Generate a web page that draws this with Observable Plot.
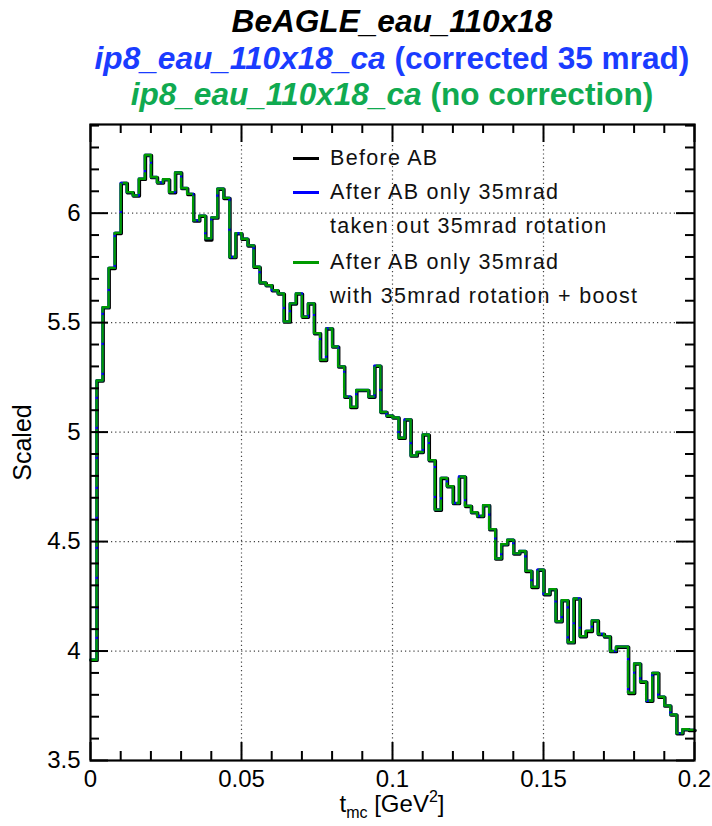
<!DOCTYPE html>
<html><head><meta charset="utf-8">
<script src="https://cdn.jsdelivr.net/npm/d3@7"></script>
<script src="https://cdn.jsdelivr.net/npm/@observablehq/plot@0.6"></script>
<style>
body{margin:0;background:#fff;}
#wrap{position:relative;width:712px;height:826px;overflow:hidden;font-family:"Liberation Sans",Arial,Helvetica,sans-serif;background:#fff;}
.title{position:absolute;left:0;width:784px;text-align:center;font-weight:bold;font-size:31.6px;line-height:36px;white-space:nowrap;}
.title i{font-style:italic;}
#plot{position:absolute;left:0;top:115px;}
.leg{position:absolute;font-size:21.5px;line-height:24px;letter-spacing:1.3px;white-space:nowrap;color:#111;}
.legline{position:absolute;height:3px;width:26px;}
#xlabel{position:absolute;left:0;width:784px;text-align:center;font-size:24px;line-height:28px;top:790px;white-space:nowrap;}
#xlabel sub{font-size:16px;vertical-align:-6px;line-height:0;}
#xlabel sup{font-size:16px;vertical-align:10px;line-height:0;}
</style></head>
<body><div id="wrap">
<div class="title" style="top:3px;color:#000"><i>BeAGLE_eau_110x18</i></div>
<div class="title" style="top:40px;color:#1a3cff"><i>ip8_eau_110x18_ca</i> (corrected 35 mrad)</div>
<div class="title" style="top:76px;color:#10aa50"><i>ip8_eau_110x18_ca</i> (no correction)</div>
<div id="plot"></div>
<div id="legend"></div>
<div id="xlabel">t<sub>mc</sub> [GeV<sup>2</sup>]</div>
</div>
<script>
// ---------------- data ----------------
const binWidth = 0.002;   // histogram bin width in t_mc [GeV^2], 100 bins over 0..0.2
const beforeAB = [
3.96,5.236,5.57,5.75,5.91,6.138,6.096,6.081,6.157,6.266,
6.165,6.14,6.155,6.096,6.186,6.115,6.088,5.967,5.988,5.88,
5.98,6.112,6.07,5.80,5.908,5.883,5.853,5.755,5.683,5.671,
5.648,5.633,5.505,5.588,5.633,5.527,5.588,5.452,5.33,5.474,
5.391,5.30,5.162,5.115,5.192,5.192,5.162,5.303,5.092,5.075,
5.067,4.974,5.058,4.893,4.909,4.989,4.872,4.646,4.791,4.753,
4.676,4.797,4.663,4.634,4.617,4.666,4.557,4.423,4.488,4.508,
4.446,4.457,4.366,4.293,4.372,4.26,4.283,4.136,4.232,4.04,
4.24,4.068,4.092,4.14,4.078,4.067,4.0,4.02,4.02,3.809,
3.943,3.86,3.773,3.90,3.791,3.751,3.71,3.625,3.643,3.64];
const afterTakenOut = [
3.96,5.236,5.57,5.75,5.91,6.138,6.096,6.081,6.157,6.266,
6.165,6.14,6.155,6.096,6.186,6.115,6.088,5.967,5.988,5.885,
5.98,6.112,6.07,5.80,5.908,5.883,5.853,5.755,5.683,5.671,
5.648,5.633,5.505,5.588,5.633,5.527,5.588,5.452,5.33,5.474,
5.391,5.30,5.162,5.115,5.192,5.192,5.162,5.303,5.092,5.075,
5.067,4.974,5.058,4.893,4.909,4.989,4.872,4.646,4.791,4.753,
4.676,4.797,4.663,4.634,4.617,4.666,4.557,4.423,4.488,4.508,
4.446,4.457,4.366,4.293,4.372,4.26,4.283,4.136,4.232,4.04,
4.24,4.068,4.092,4.14,4.078,4.067,4.0,4.02,4.02,3.809,
3.943,3.86,3.773,3.90,3.791,3.751,3.71,3.625,3.643,3.64];
const afterBoost = [
3.96,5.236,5.57,5.75,5.91,6.138,6.096,6.081,6.157,6.266,
6.165,6.14,6.155,6.096,6.186,6.115,6.088,5.967,5.988,5.885,
5.98,6.112,6.07,5.80,5.908,5.883,5.853,5.755,5.683,5.671,
5.648,5.633,5.505,5.588,5.633,5.527,5.588,5.452,5.33,5.474,
5.391,5.30,5.162,5.115,5.192,5.192,5.162,5.303,5.092,5.075,
5.067,4.974,5.058,4.893,4.909,4.989,4.872,4.646,4.791,4.753,
4.676,4.797,4.663,4.634,4.617,4.666,4.557,4.423,4.488,4.508,
4.446,4.457,4.366,4.293,4.372,4.26,4.283,4.136,4.232,4.04,
4.24,4.068,4.092,4.14,4.078,4.067,4.0,4.02,4.02,3.809,
3.943,3.86,3.773,3.90,3.791,3.751,3.71,3.625,3.643,3.64];

const xTicks = [0, 0.05, 0.1, 0.15, 0.2];
const xTickLabels = ["0", "0.05", "0.1", "0.15", "0.2"];
const xMinorTicks = [0.01,0.02,0.03,0.04,0.06,0.07,0.08,0.09,0.11,0.12,0.13,0.14,0.16,0.17,0.18,0.19];
const yTicks = [3.5, 4, 4.5, 5, 5.5, 6];
const yTickLabels = ["3.5", "4", "4.5", "5", "5.5", "6"];
const yMinorTicks = [3.6,3.7,3.8,3.9,4.1,4.2,4.3,4.4,4.6,4.7,4.8,4.9,5.1,5.2,5.3,5.4,5.6,5.7,5.8,5.9,6.1,6.2,6.3,6.4];
const gridX = [0.05, 0.1, 0.15];
const gridY = [4, 4.5, 5, 5.5, 6];

const seriesNames = ["Before AB", "After AB only 35mrad|taken out 35mrad rotation", "After AB only 35mrad|with 35mrad rotation + boost"];
const seriesColors = ["#000000", "#0000ff", "#009a00"];

// ---------------- build ----------------
function steps(vals) {
  const pts = vals.map((v, i) => ({x: i * binWidth, y: v}));
  pts.push({x: vals.length * binWidth, y: vals[vals.length - 1]});
  return pts;
}
const W = 712, H = 711, ML = 90, MR = 18, MT = 9, MB = 66;
const PW = W - ML - MR, PH = H - MT - MB;
const xFmt = new Map(xTicks.map((d, i) => [d, xTickLabels[i]]));
const yFmt = new Map(yTicks.map((d, i) => [d, yTickLabels[i]]));
const gridStyle = {stroke: "#444", strokeWidth: 1.2, strokeDasharray: "1.2,3"};
const tk = {stroke: "black", strokeWidth: 2};

const chart = Plot.plot({
  width: W, height: H, marginLeft: ML, marginRight: MR, marginTop: MT, marginBottom: MB,
  style: {fontFamily: "'Liberation Sans', Arial, sans-serif", fontSize: "24px", background: "transparent", color: "#000"},
  x: {domain: [0, 0.2], ticks: xTicks, tickFormat: d => xFmt.get(d), tickSize: 0, tickPadding: 9, label: null},
  y: {domain: [3.5, 6.405], ticks: yTicks, tickFormat: d => yFmt.get(d), tickSize: 0, tickPadding: 10, label: null},
  marks: [
    Plot.ruleX(gridX, {x: d => d, ...gridStyle}),
    Plot.ruleY(gridY, {y: d => d, ...gridStyle}),
    Plot.line(steps(beforeAB), {x: "x", y: "y", curve: "step-after", stroke: seriesColors[0], strokeWidth: 3.4, dx: 0.6, dy: 0.6}),
    Plot.line(steps(afterTakenOut), {x: "x", y: "y", curve: "step-after", stroke: seriesColors[1], strokeWidth: 2.4}),
    Plot.line(steps(afterBoost), {x: "x", y: "y", curve: "step-after", stroke: seriesColors[2], strokeWidth: 2.4, strokeDasharray: "26,4"}),
    // inward ticks on all four sides
    Plot.tickY(yMinorTicks, {y: d => d, insetRight: PW - 9, ...tk}),
    Plot.tickY(yTicks, {y: d => d, insetRight: PW - 18, ...tk}),
    Plot.tickY(yMinorTicks, {y: d => d, insetLeft: PW - 9, ...tk}),
    Plot.tickY(yTicks, {y: d => d, insetLeft: PW - 18, ...tk}),
    Plot.tickX(xMinorTicks, {x: d => d, insetTop: PH - 9, ...tk}),
    Plot.tickX(xTicks, {x: d => d, insetTop: PH - 18, ...tk}),
    Plot.tickX(xMinorTicks, {x: d => d, insetBottom: PH - 9, ...tk}),
    Plot.tickX(xTicks, {x: d => d, insetBottom: PH - 18, ...tk}),
    Plot.frame({stroke: "black", strokeWidth: 2.2}),
    Plot.text(["Scaled"], {text: d => d, frameAnchor: "left", textAnchor: "middle", dx: -68, rotate: -90, fontSize: 25})
  ]
});
document.getElementById("plot").appendChild(chart);

// legend (inside plot frame, top right)
const leg = document.getElementById("legend");
const legRows = [158, 192, 262];
seriesNames.forEach((name, i) => {
  const parts = name.split("|");
  const ln = document.createElement("div");
  ln.className = "legline";
  ln.style.cssText = `left:293px;top:${legRows[i] - 1.5}px;background:${seriesColors[i]}`;
  leg.appendChild(ln);
  parts.forEach((p, j) => {
    const t = document.createElement("div");
    t.className = "leg";
    t.textContent = p;
    t.style.left = "330px";
    t.style.top = (legRows[i] - 12 + j * 34) + "px";
    leg.appendChild(t);
  });
});
</script>
</body></html>
